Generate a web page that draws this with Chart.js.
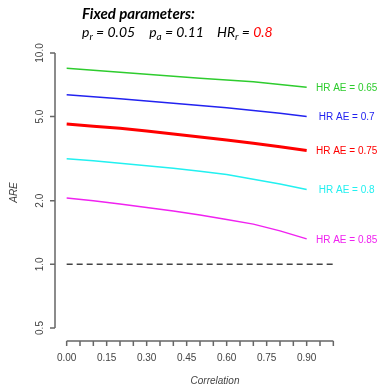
<!DOCTYPE html>
<html>
<head>
<meta charset="utf-8">
<script src="https://cdn.jsdelivr.net/npm/chart.js@4/dist/chart.umd.min.js"></script>
<style>
  html, body { margin: 0; padding: 0; background: #fff; }
  #wrap { width: 379px; height: 387px; position: relative; }
</style>
</head>
<body>
<div id="wrap"><canvas id="chart" width="379" height="387"></canvas></div>
<script>
// correlation values where the curves are evaluated
const correlation = [0.0, 0.1, 0.2, 0.3, 0.4, 0.5, 0.6, 0.7, 0.8, 0.9];

// ARE for each HR AE
const are065 = [8.47, 8.29, 8.11, 7.93, 7.76, 7.60, 7.45, 7.31, 7.10, 6.89];
const are070 = [6.34, 6.21, 6.07, 5.93, 5.79, 5.64, 5.50, 5.35, 5.18, 5.01];
const are075 = [4.61, 4.50, 4.40, 4.28, 4.14, 4.00, 3.88, 3.74, 3.60, 3.46];
const are080 = [3.16, 3.09, 3.01, 2.93, 2.85, 2.76, 2.66, 2.53, 2.40, 2.26];
const are085 = [2.06, 2.00, 1.93, 1.86, 1.79, 1.71, 1.63, 1.55, 1.44, 1.32];

const seriesLabels = ['HR AE = 0.65', 'HR AE = 0.7', 'HR AE = 0.75', 'HR AE = 0.8', 'HR AE = 0.85'];
const seriesColors = ['#2ecc2e', '#2222f0', '#ff0000', '#22f0f0', '#f022f0'];

// reference line
const refX = [0, 1];
const refY = [1, 1];

// axis ticks
const xTicks = [0, 0.05, 0.1, 0.15, 0.2, 0.25, 0.3, 0.35, 0.4, 0.45, 0.5, 0.55, 0.6, 0.65, 0.7, 0.75, 0.8, 0.85, 0.9, 0.95, 1.0];
const xTickLabels = ['0.00', '0.15', '0.30', '0.45', '0.60', '0.75', '0.90'];
const yTicks = [0.5, 1, 2, 5, 10];
const yTickLabels = ['0.5', '1.0', '2.0', '5.0', '10.0'];

function pairs(xs, ys) {
    return xs.map((x, i) => ({ x: x, y: ys[i] }));
}

let allSeries = [are065, are070, are075, are080, are085];
let datasets = allSeries.map((vals, i) => ({
    label: seriesLabels[i],
    data: pairs(correlation, vals),
    borderColor: seriesColors[i],
    borderWidth: i === 2 ? 3 : 1.5,
    pointRadius: 0,
    tension: 0,
    fill: false
}));
datasets.push({
    label: 'ref',
    data: pairs(refX, refY),
    borderColor: '#444',
    borderWidth: 1.5,
    borderDash: [6, 4],
    pointRadius: 0,
    fill: false
});

const axisColor = '#666';
const textColor = '#444';

const rAxes = {
    id: 'rAxes',
    afterDraw(chart) {
        let ctx = chart.ctx;
        let xs = chart.scales.x;
        let ys = chart.scales.y;
        ctx.save();

        // y axis (detached, R style)
        let ax = chart.chartArea.left - 1;
        ctx.strokeStyle = axisColor;
        ctx.lineWidth = 1.5;
        ctx.beginPath();
        ctx.moveTo(ax, ys.getPixelForValue(yTicks[0]));
        ctx.lineTo(ax, ys.getPixelForValue(yTicks[yTicks.length - 1]));
        for (let t of yTicks) {
            let py = ys.getPixelForValue(t);
            ctx.moveTo(ax, py);
            ctx.lineTo(ax - 5, py);
        }
        ctx.stroke();

        ctx.fillStyle = textColor;
        ctx.font = '10px "Liberation Sans", Arial, sans-serif';
        ctx.textAlign = 'center';
        ctx.textBaseline = 'middle';
        yTicks.forEach((t, i) => {
            let py = ys.getPixelForValue(t);
            ctx.save();
            ctx.translate(ax - 15, py);
            ctx.rotate(-Math.PI / 2);
            ctx.fillText(yTickLabels[i], 0, 0);
            ctx.restore();
        });

        // x axis
        let ay = chart.chartArea.bottom + 2;
        ctx.beginPath();
        ctx.moveTo(xs.getPixelForValue(xTicks[0]), ay);
        ctx.lineTo(xs.getPixelForValue(xTicks[xTicks.length - 1]), ay);
        for (let t of xTicks) {
            let px = xs.getPixelForValue(t);
            ctx.moveTo(px, ay);
            ctx.lineTo(px, ay + 5);
        }
        ctx.stroke();
        xTickLabels.forEach(lbl => {
            let px = xs.getPixelForValue(parseFloat(lbl));
            ctx.fillText(lbl, px, ay + 17);
        });

        // axis titles
        ctx.font = 'italic 10px "Liberation Sans", Arial, sans-serif';
        ctx.fillText('Correlation', 215, 381);
        ctx.save();
        ctx.translate(14, (chart.chartArea.top + chart.chartArea.bottom) / 2 + 2);
        ctx.rotate(-Math.PI / 2);
        ctx.fillText('ARE', 0, 0);
        ctx.restore();

        // curve labels at the right end
        ctx.font = '10px "Liberation Sans", Arial, sans-serif';
        allSeries.forEach((vals, i) => {
            ctx.fillStyle = seriesColors[i];
            let py = ys.getPixelForValue(vals[vals.length - 1]);
            ctx.fillText(seriesLabels[i], xs.getPixelForValue(1.05), py + 1);
        });

        // header
        ctx.textAlign = 'left';
        ctx.textBaseline = 'alphabetic';
        ctx.fillStyle = '#000';
        ctx.font = 'italic bold 15px Lato, "Open Sans", sans-serif';
        ctx.fillText('Fixed parameters:', 82, 19);

        let x = 82, base = 37;
        function put(txt, color, font, dy) {
            ctx.font = font;
            ctx.fillStyle = color;
            ctx.fillText(txt, x, base + (dy || 0));
            x += ctx.measureText(txt).width;
        }
        const f = 'italic 14px Lato, "Open Sans", sans-serif';
        const fs = 'italic 10px Lato, "Open Sans", sans-serif';
        put('p', '#000', f);
        put('r', '#000', fs, 3);
        put(' = 0.05', '#000', f);
        x += 14;
        put('p', '#000', f);
        put('a', '#000', fs, 3);
        put(' = 0.11', '#000', f);
        x += 13;
        put('HR', '#000', f);
        put('r', '#000', fs, 3);
        put(' = ', '#000', f);
        put('0.8', '#ff0000', f);

        ctx.restore();
    }
};

new Chart(document.getElementById('chart'), {
    type: 'line',
    data: { datasets: datasets },
    options: {
        responsive: false,
        animation: false,
        layout: { padding: { left: 56, right: 35, top: 42, bottom: 48 } },
        plugins: { legend: { display: false }, tooltip: { enabled: false } },
        scales: {
            x: { type: 'linear', min: -0.04, max: 1.04, display: false },
            y: { type: 'logarithmic', min: 0.4435, max: 11.27, display: false }
        }
    },
    plugins: [rAxes]
});
</script>
</body>
</html>
